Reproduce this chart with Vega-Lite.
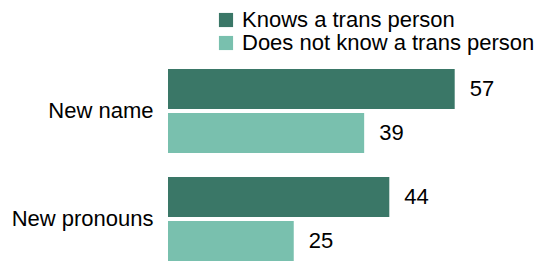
{
  "$schema": "https://vega.github.io/schema/vega-lite/v6.json",
  "width": 371,
  "height": 192,
  "autosize": "none",
  "padding": {"left": 168, "top": 69, "right": 0, "bottom": 0},
  "background": "white",
  "data": {
    "values": [
      {"item": "New name", "group": "Knows a trans person", "value": 57},
      {"item": "New name", "group": "Does not know a trans person", "value": 39},
      {"item": "New pronouns", "group": "Knows a trans person", "value": 44},
      {"item": "New pronouns", "group": "Does not know a trans person", "value": 25}
    ]
  },
  "config": {
    "view": {"stroke": null},
    "font": "Liberation Sans"
  },
  "encoding": {
    "y": {
      "field": "item", "type": "nominal", "sort": ["New name", "New pronouns"],
      "scale": {"paddingInner": 0.222, "paddingOuter": 0},
      "axis": {"title": null, "ticks": false, "domain": false, "labelPadding": 15, "labelFontSize": 22, "labelColor": "#000000", "labelFont": "Liberation Sans", "labelLimit": 0}
    },
    "yOffset": {
      "field": "group", "type": "nominal", "sort": ["Knows a trans person", "Does not know a trans person"],
      "scale": {"paddingInner": 0.09, "paddingOuter": 0}
    },
    "x": {"field": "value", "type": "quantitative", "scale": {"domain": [0, 73.76]}, "axis": null}
  },
  "layer": [
    {
      "mark": {"type": "bar"},
      "encoding": {
        "color": {
          "field": "group", "type": "nominal",
          "sort": ["Knows a trans person", "Does not know a trans person"],
          "scale": {"domain": ["Knows a trans person", "Does not know a trans person"], "range": ["#3a7767", "#79c0ae"]},
          "legend": {
            "title": null, "orient": "none", "legendX": 47, "legendY": -60,
            "symbolType": "square", "symbolSize": 200, "symbolStrokeWidth": 0,
            "labelFontSize": 22, "labelColor": "#000000", "labelFont": "Liberation Sans", "labelLimit": 0,
            "labelOffset": 5, "rowPadding": 1, "padding": 0, "symbolOpacity": 1
          }
        }
      }
    },
    {
      "mark": {"type": "text", "align": "left", "baseline": "middle", "dx": 15, "fontSize": 22, "color": "#000000"},
      "encoding": {"text": {"field": "value", "type": "quantitative"}}
    }
  ]
}
